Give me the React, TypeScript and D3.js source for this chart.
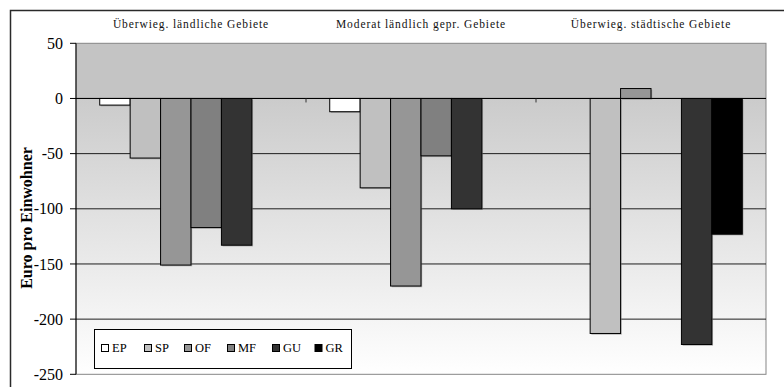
import React from "react";
import * as d3 from "d3";

// Regions (x categories) and series
const regions = [
  "Überwieg. ländliche Gebiete",
  "Moderat ländlich gepr. Gebiete",
  "Überwieg. städtische Gebiete",
];
const seriesNames = ["EP", "SP", "OF", "MF", "GU", "GR"];

// Values in Euro per inhabitant, one entry per region
const epValues = [-6, -12, 0];
const spValues = [-54, -81, -213];
const ofValues = [-151, -170, 9];
const mfValues = [-117, -52, 0];
const guValues = [-133, -100, -223];
const grValues = [0, 0, -123];

const yTicks = [50, 0, -50, -100, -150, -200, -250];

const seriesValues = [epValues, spValues, ofValues, mfValues, guValues, grValues];
const seriesColors = ["#ffffff", "#c0c0c0", "#969696", "#808080", "#333333", "#000000"];

const W = 784;
const H = 387;
const plot = { left: 76, right: 766, top: 43.3, bottom: 374.3 };
const serif = "'Liberation Serif', 'Times New Roman', serif";

export default function App() {
  const x0 = d3.scaleBand<string>().domain(regions).range([plot.left, plot.right]).padding(0);
  const x1 = d3
    .scaleBand<string>()
    .domain(seriesNames)
    .range([0, x0.bandwidth()])
    .paddingInner(0)
    .paddingOuter(0.78);
  const y = d3.scaleLinear().domain([-250, 50]).range([plot.bottom, plot.top]);

  const y0 = y(0);

  const bars: React.ReactNode[] = [];
  const shadows: React.ReactNode[] = [];
  regions.forEach((r, ri) => {
    seriesNames.forEach((s, si) => {
      const v = seriesValues[si][ri];
      if (v === 0) return;
      const bx = (x0(r) as number) + (x1(s) as number);
      const bw = x1.bandwidth();
      const top = Math.min(y(v), y0);
      const h = Math.abs(y(v) - y0);
      shadows.push(
        <rect key={`sh-${r}-${s}`} x={bx + 1.2} y={top + 1.2} width={bw} height={h} fill="#7a7a7a" opacity={0.55} />
      );
      bars.push(
        <rect
          key={`b-${r}-${s}`}
          x={bx}
          y={top}
          width={bw}
          height={h}
          fill={seriesColors[si]}
          stroke="#000"
          strokeWidth={1}
        />
      );
    });
  });

  const legendX = 94.5;
  const legendY = 329.5;
  const legendItemX = [101, 144, 184, 227, 272, 314.5];

  return (
    <svg
      width={W}
      height={H}
      viewBox={`0 0 ${W} ${H}`}
      style={{ position: "absolute", left: 0, top: 0, background: "#fff" }}
    >
      <defs>
        <linearGradient id="plotGrad" x1="0" y1="0" x2="0" y2="1">
          <stop offset="0%" stopColor="#cbcbcb" />
          <stop offset="100%" stopColor="#ffffff" />
        </linearGradient>
      </defs>

      {/* outer chart frame */}
      <rect x={10.5} y={10.5} width={W + 20} height={H + 20} fill="#fff" stroke="#2a2a2a" strokeWidth={1.5} />

      {/* plot area: flat band above zero, gradient below */}
      <rect x={plot.left} y={plot.top} width={plot.right - plot.left} height={y0 - plot.top} fill="#c4c4c4" />
      <rect x={plot.left} y={y0} width={plot.right - plot.left} height={plot.bottom - y0} fill="url(#plotGrad)" />
      <rect
        x={plot.left}
        y={plot.top}
        width={plot.right - plot.left}
        height={plot.bottom - plot.top}
        fill="none"
        stroke="#858585"
        strokeWidth={1}
      />

      {/* gridlines */}
      {yTicks
        .filter((t) => t !== 50 && t !== -250)
        .map((t) => (
          <line key={`g${t}`} x1={plot.left} x2={plot.right} y1={y(t)} y2={y(t)} stroke="#1e1e1e" strokeWidth={1} />
        ))}

      {shadows}
      {bars}

      {/* zero axis with category tick marks */}
      <line x1={plot.left} x2={plot.right} y1={y0} y2={y0} stroke="#000" strokeWidth={1} />
      {regions.slice(1).map((r) => (
        <line key={`ct-${r}`} x1={x0(r)} x2={x0(r)} y1={y0} y2={y0 + 4} stroke="#333" strokeWidth={1} />
      ))}

      {/* y axis */}
      <line x1={plot.left} x2={plot.left} y1={plot.top} y2={plot.bottom} stroke="#000" strokeWidth={1} />
      {yTicks.map((t) => (
        <g key={`t${t}`}>
          <line x1={plot.left - 6} x2={plot.left} y1={y(t)} y2={y(t)} stroke="#000" strokeWidth={1} />
          <text
            x={plot.left - 13}
            y={y(t)}
            dy="0.35em"
            textAnchor="end"
            fontFamily={serif}
            fontSize={16}
            fill="#000"
          >
            {t}
          </text>
        </g>
      ))}

      {/* y axis title */}
      <text
        transform={`translate(32, 218) rotate(-90)`}
        textAnchor="middle"
        fontFamily={serif}
        fontWeight="bold"
        fontSize={16}
        fill="#000"
      >
        Euro pro Einwohner
      </text>

      {/* region headers */}
      {regions.map((r) => (
        <text
          key={`h-${r}`}
          x={(x0(r) as number) + x0.bandwidth() / 2}
          y={28}
          textAnchor="middle"
          fontFamily={serif}
          fontSize={11.5}
          letterSpacing={0.9}
          fill="#111"
        >
          {r}
        </text>
      ))}

      {/* legend */}
      <rect x={legendX} y={legendY} width={257} height={39} fill="#fff" stroke="#000" strokeWidth={1} />
      {seriesNames.map((s, i) => (
        <g key={`l-${s}`}>
          <rect
            x={legendItemX[i] + 0.5}
            y={344.5}
            width={7}
            height={7}
            fill={seriesColors[i]}
            stroke="#000"
            strokeWidth={1}
          />
          <text x={legendItemX[i] + 11} y={352} fontFamily={serif} fontSize={12.5} fill="#000">
            {s}
          </text>
        </g>
      ))}
    </svg>
  );
}
